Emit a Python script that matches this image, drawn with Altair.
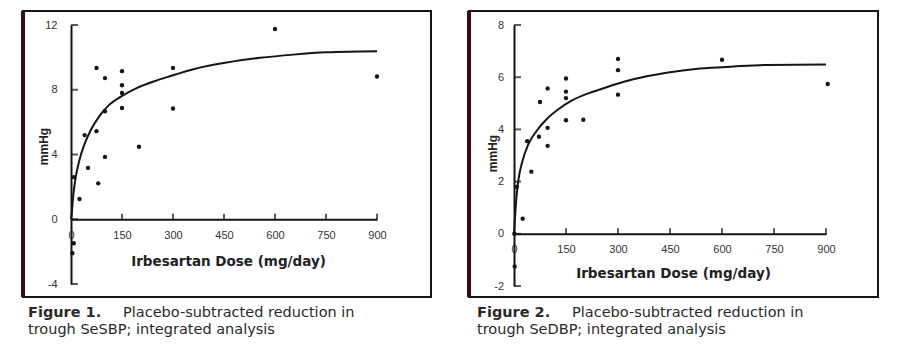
import altair as alt
import pandas as pd

FONT = "Liberation Sans"
CAP_FONT = "DejaVu Sans"

# ---------------- shared axis content ----------------
x_ticks = [0, 150, 300, 450, 600, 750, 900]
x_title = "Irbesartan Dose (mg/day)"
y_title = "mmHg"

# ---------------- Figure 1 : SeSBP ----------------
sbp_y_ticks = [-4, 0, 4, 8, 12]
sbp_pt_dose = [4, 8, 8, 25, 40, 50, 75, 75, 80, 100, 100, 100, 150, 150, 150, 150, 200, 300, 300, 600, 900]
sbp_pt_mmhg = [-2.1, -1.48, 2.6, 1.25, 5.2, 3.17, 9.35, 5.44, 2.22, 8.72, 6.67, 3.85, 9.15, 8.28, 7.8, 6.87,
               4.48, 9.35, 6.84, 11.75, 8.82]
sbp_fit_dose = [0, 2, 6, 12, 24, 39, 59, 83, 113, 148, 193, 243, 293, 360, 458, 556, 654, 752, 900]
sbp_fit_mmhg = [0, 0.31, 1.33, 2.36, 3.59, 4.6, 5.54, 6.36, 7.08, 7.59, 8.1, 8.51, 8.85, 9.27, 9.68, 9.97,
                10.17, 10.31, 10.38]
sbp_cap_num = "Figure 1."
sbp_cap_line1 = "Placebo-subtracted reduction in"
sbp_cap_line2 = "trough SeSBP; integrated analysis"

# ---------------- Figure 2 : SeDBP ----------------
dbp_y_ticks = [-2, 0, 2, 4, 6, 8]
dbp_pt_dose = [2, 1, 8, 25, 38, 50, 72, 75, 97, 97, 97, 150, 150, 150, 150, 200, 300, 300, 300, 600, 905]
dbp_pt_mmhg = [-1.25, 0.0, 1.8, 0.58, 3.55, 2.38, 3.72, 5.05, 5.57, 4.06, 3.37, 5.95, 5.45, 5.2, 4.35, 4.37,
               6.7, 6.27, 5.33, 6.67, 5.74]
dbp_fit_dose = [0, 2, 6, 12, 24, 41, 65, 94, 128, 166, 214, 248, 291, 344, 440, 537, 633, 729, 900]
dbp_fit_mmhg = [0, 0.45, 1.23, 2.0, 2.77, 3.42, 3.94, 4.39, 4.77, 5.1, 5.38, 5.53, 5.72, 5.92, 6.17, 6.33,
                6.41, 6.47, 6.49]
dbp_cap_num = "Figure 2."
dbp_cap_line1 = "Placebo-subtracted reduction in"
dbp_cap_line2 = "trough SeDBP; integrated analysis"

# ---------------- layout (pixels, relative to each plot area) ----------------
LEFT = dict(W=306, H=259, fx1=-48, fx2=360, fy1=-14, fy2=272, xtx=157, xty=42, ytx=-28, yty=121,
            ylp=14, cx=-43, cx2=52, cy1=292, cy2=309)
RIGHT = dict(W=312, H=261, fx1=-45, fx2=364, fy1=-14, fy2=272, xtx=159, xty=40, ytx=-22, yty=128,
             ylp=10.5, cx=-37, cx2=58, cy1=292, cy2=309)

INK = "#151515"


def panel(pt_d, pt_v, fit_d, fit_v, yticks, lay, cap_num, cap1, cap2):
    W, H = lay["W"], lay["H"]
    ydom = [min(yticks), max(yticks)]
    y0 = H * ydom[1] / (ydom[1] - ydom[0])
    xs = alt.Scale(domain=[0, 900], nice=False, zero=False)
    ys = alt.Scale(domain=ydom, nice=False, zero=False)
    xaxis = alt.Axis(values=x_ticks, labelExpr="'' + datum.value", ticks=False, tickSize=0, grid=False,
                     offset=-(H - y0), domainColor=INK, domainWidth=2,
                     labelFont=FONT, labelFontSize=11, labelColor="#333", labelPadding=16,
                     labelBaseline="middle", labelFlush=False, labelOverlap=False,
                     title=x_title, titleFont=CAP_FONT, titleFontSize=13.5, titleFontWeight="bold",
                     titleColor="#222", titleX=lay["xtx"], titleY=lay["xty"],
                     titleBaseline="middle", titleAlign="center")
    yaxis = alt.Axis(values=yticks, labelExpr="'' + datum.value", ticks=False, tickSize=0, grid=False,
                     domainColor=INK, domainWidth=2,
                     labelFont=FONT, labelFontSize=11, labelColor="#333", labelPadding=lay["ylp"],
                     labelFlush=False, labelOverlap=False,
                     title=y_title, titleFont=FONT, titleFontSize=12, titleFontWeight="bold",
                     titleColor="#222", titleX=lay["ytx"], titleY=lay["yty"], titleAngle=270,
                     titleBaseline="middle", titleAlign="center")
    X = alt.X("dose:Q", scale=xs, axis=xaxis)
    Y = alt.Y("mmhg:Q", scale=ys, axis=yaxis)

    pts = pd.DataFrame({"dose": pt_d, "mmhg": pt_v})
    fit = pd.DataFrame({"dose": fit_d, "mmhg": fit_v})
    ytk = pd.DataFrame({"dose": [0] * len(yticks), "mmhg": yticks})
    xtk = pd.DataFrame({"dose": x_ticks[1:], "mmhg": [0] * (len(x_ticks) - 1)})
    one = pd.DataFrame({"k": [0]})

    frame = alt.Chart(one).mark_rect(fillOpacity=0, stroke=INK, strokeWidth=2).encode(
        x=alt.value(lay["fx1"]), x2=alt.value(lay["fx2"]),
        y=alt.value(lay["fy1"]), y2=alt.value(lay["fy2"]))
    edge = alt.Chart(one).mark_rule(stroke="#3a0a12", strokeWidth=4).encode(
        x=alt.value(lay["fx1"]), y=alt.value(lay["fy1"]), y2=alt.value(lay["fy2"]))
    curve = alt.Chart(fit).mark_line(color=INK, strokeWidth=2, interpolate="monotone").encode(x=X, y=Y)
    dots = alt.Chart(pts).mark_circle(color=INK, size=19, opacity=1).encode(x=X, y=Y)
    yt = alt.Chart(ytk).mark_tick(orient="horizontal", size=7, thickness=2, xOffset=3.5,
                                  color=INK).encode(x=X, y=Y)
    xt = alt.Chart(xtk).mark_tick(orient="vertical", size=6, thickness=2, yOffset=-2.5,
                                  color=INK).encode(x=X, y=Y)

    capdf = pd.DataFrame({"num": [cap_num], "l1": [cap1], "l2": [cap2]})
    base_txt = dict(align="left", baseline="alphabetic", font=CAP_FONT, fontSize=14.5, color="#2a2a2a")
    c0 = alt.Chart(capdf).mark_text(fontWeight="bold", **base_txt).encode(
        text="num:N", x=alt.value(lay["cx"]), y=alt.value(lay["cy1"]))
    c1 = alt.Chart(capdf).mark_text(**base_txt).encode(
        text="l1:N", x=alt.value(lay["cx2"]), y=alt.value(lay["cy1"]))
    c2 = alt.Chart(capdf).mark_text(**base_txt).encode(
        text="l2:N", x=alt.value(lay["cx"]), y=alt.value(lay["cy2"]))

    return alt.layer(frame, edge, curve, dots, yt, xt, c0, c1, c2).properties(width=W, height=H)


left = panel(sbp_pt_dose, sbp_pt_mmhg, sbp_fit_dose, sbp_fit_mmhg, sbp_y_ticks, LEFT,
             sbp_cap_num, sbp_cap_line1, sbp_cap_line2)
right = panel(dbp_pt_dose, dbp_pt_mmhg, dbp_fit_dose, dbp_fit_mmhg, dbp_y_ticks, RIGHT,
              dbp_cap_num, dbp_cap_line1, dbp_cap_line2)

chart = alt.hconcat(left, right, spacing=35).properties(
    padding={"left": 21, "top": 9, "right": 5, "bottom": 5},
    background="white",
).configure_view(stroke=None)

chart.save("out.html", embed_options={"renderer": "svg", "actions": False})
